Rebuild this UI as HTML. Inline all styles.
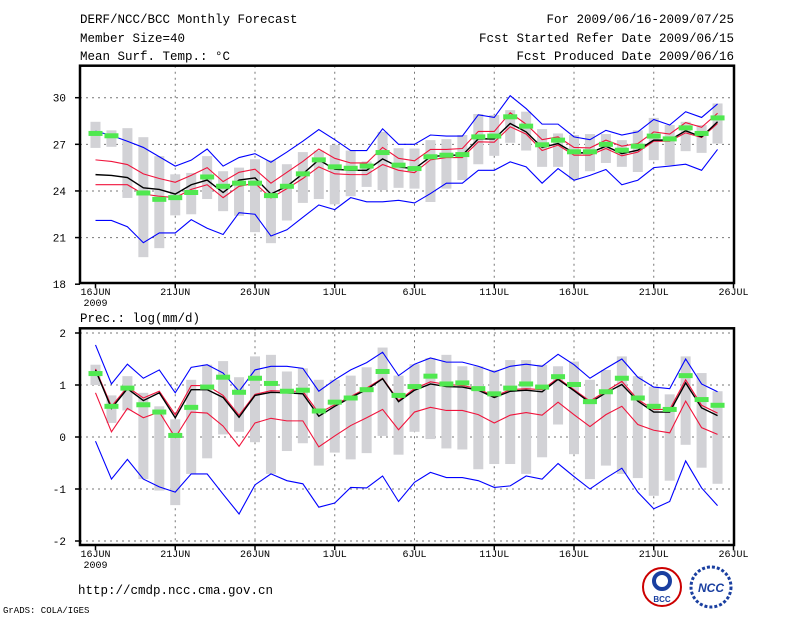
<!DOCTYPE html>
<html><head><meta charset="utf-8"><style>
body{margin:0;background:#fff}
svg{display:block;font-family:"Liberation Sans",sans-serif}
</style></head><body>
<svg id="chart" width="800" height="618" viewBox="0 0 800 618" xmlns="http://www.w3.org/2000/svg">
<g font-size="12.5" fill="#000" font-family="Liberation Mono, monospace">
<text x="80" y="23">DERF/NCC/BCC Monthly Forecast</text>
<text x="80" y="42">Member Size=40</text>
<text x="80" y="60">Mean Surf. Temp.: °C</text>
<text x="734" y="23" text-anchor="end">For 2009/06/16-2009/07/25</text>
<text x="734" y="42" text-anchor="end">Fcst Started Refer Date 2009/06/15</text>
<text x="734" y="60" text-anchor="end">Fcst Produced Date 2009/06/16</text>
<text x="80" y="322">Prec.: log(mm/d)</text>
<text x="78" y="594">http://cmdp.ncc.cma.gov.cn</text>
</g>
<text x="3" y="613" font-size="9" font-family="Liberation Mono, monospace">GrADS: COLA/IGES</text>
<g id="top"></g>
<g id="bot"></g>
<g>
<circle cx="662" cy="587" r="19" fill="#fff" stroke="#c00" stroke-width="2"/>
<circle cx="662" cy="581" r="8" fill="none" stroke="#1a3fa0" stroke-width="4"/>
<text x="662" y="602" font-size="8" text-anchor="middle" fill="#1a3fa0" font-weight="bold">BCC</text>
<circle cx="711" cy="587" r="20" fill="#fff" stroke="#1a3fa0" stroke-width="3" stroke-dasharray="3 2"/>
<text x="711" y="592" font-size="12" text-anchor="middle" fill="#1a3fa0" font-weight="bold" font-style="italic">NCC</text>
</g>
</svg>
<script>
// Temperature panel data (°C), 40 days 16JUN..25JUL
const tBlueHi=[27.85,27.57,27.2,26.8,26.2,25.6,25.98,26.7,25.6,26.15,26.4,25.85,26.5,27.2,27.95,27.3,26.6,26.6,28.0,27.0,27.0,27.6,27.53,27.53,28.9,28.73,30.13,29.3,28.3,28.3,27.48,27.3,27.9,27.6,27.8,28.6,28.24,29.1,28.73,29.6];
const tRedHi=[26.0,25.9,25.7,25.1,24.8,24.56,25.0,25.5,24.6,25.2,25.4,24.5,25.2,25.9,26.7,26.1,25.8,25.8,26.8,26.1,25.94,26.67,26.67,26.73,27.83,27.83,29.03,28.3,27.3,27.48,26.8,26.77,27.27,26.88,27.05,27.8,27.66,28.4,28.1,29.0];
const tMean=[25.05,25.0,24.86,24.2,24.1,23.8,24.4,24.7,23.9,24.7,24.84,23.8,24.3,25.1,26.0,25.4,25.33,25.33,26.06,25.55,25.42,26.2,26.3,26.3,27.35,27.35,28.34,27.8,26.8,27.05,26.45,26.45,26.88,26.4,26.62,27.27,27.27,27.87,27.48,28.45];
const tRedLo=[24.4,24.4,24.4,23.8,23.66,23.57,24.1,24.4,23.57,24.3,24.5,23.55,24.15,24.8,25.55,25.1,25.05,25.05,25.7,25.33,25.18,26.0,26.15,26.15,27.16,27.14,28.13,27.66,26.6,26.95,26.3,26.3,26.73,26.26,26.5,27.2,27.2,27.74,27.44,28.34];
const tBlueLo=[22.1,22.1,21.7,20.67,21.3,21.3,22.15,21.6,21.2,22.6,22.5,21.1,21.5,22.3,23.1,22.8,23.57,23.3,23.3,23.4,23.23,23.83,24.5,24.5,25.33,25.33,25.87,25.55,24.5,25.44,24.69,25.0,25.38,24.4,24.69,25.5,25.6,25.72,25.33,26.67];
const tObs=[27.7,27.55,null,23.87,23.46,23.57,23.9,24.9,24.3,24.5,24.5,23.7,24.3,25.1,26.0,25.55,25.46,25.6,26.47,25.66,25.44,26.2,26.3,26.34,27.48,27.53,28.77,28.17,26.97,27.27,26.52,26.52,27.0,26.62,26.88,27.53,27.35,28.06,27.7,28.7];
const tBarHi=[28.45,27.9,28.04,27.46,26.24,25.07,25.16,26.24,25.27,25.5,26.04,25.98,25.72,26.5,26.6,26.95,26.6,25.9,27.8,26.75,26.73,27.27,27.33,27.6,28.95,28.88,29.2,29.1,27.98,27.7,27.6,27.66,27.66,27.27,27.9,28.7,28.24,28.45,28.24,29.63];
const tBarLo=[26.77,26.84,23.55,19.74,20.32,22.43,22.5,23.48,22.7,22.4,21.35,20.64,22.1,23.23,23.48,23.14,23.66,24.26,24.06,24.2,24.15,23.29,24.15,24.7,25.72,26.26,27.1,26.6,25.55,25.55,24.73,25.27,25.8,25.55,25.22,25.98,25.66,26.56,26.45,27.05];
// Precipitation panel data log(mm/d)
const pBlueHi=[1.77,1.02,1.4,1.13,1.29,0.85,1.34,1.39,1.23,0.88,1.29,1.36,1.36,1.32,0.88,1.1,1.29,1.43,1.63,1.18,1.4,1.52,1.44,1.44,1.36,1.25,1.36,1.4,1.36,1.59,1.39,1.13,1.32,1.5,1.15,0.96,0.93,1.5,1.02,0.87];
const pRedHi=[1.31,0.59,0.96,0.75,0.88,0.43,0.99,0.99,0.8,0.42,0.82,0.89,0.88,0.88,0.46,0.62,0.78,0.94,1.13,0.7,0.93,1.06,1.01,0.99,0.93,0.78,0.91,0.93,0.91,1.13,0.91,0.69,0.88,1.07,0.72,0.53,0.53,1.1,0.61,0.46];
const pMean=[1.29,0.55,0.93,0.7,0.85,0.37,0.91,0.91,0.76,0.38,0.8,0.86,0.85,0.83,0.4,0.59,0.76,0.91,1.12,0.68,0.9,1.02,0.97,0.96,0.9,0.76,0.88,0.9,0.87,1.11,0.89,0.66,0.85,1.01,0.69,0.48,0.48,1.04,0.56,0.41];
const pRedLo=[0.85,0.1,0.55,0.37,0.48,-0.01,0.48,0.46,0.21,-0.18,0.27,0.36,0.31,0.31,-0.19,0.02,0.22,0.37,0.53,0.14,0.48,0.57,0.51,0.51,0.43,0.27,0.42,0.47,0.42,0.67,0.43,0.2,0.43,0.59,0.24,0.13,0.08,0.69,0.18,0.05];
const pBlueLo=[-0.08,-0.81,-0.43,-0.81,-0.96,-1.06,-0.71,-0.71,-1.1,-1.48,-0.92,-0.71,-0.84,-0.9,-1.35,-1.27,-0.97,-0.98,-0.75,-1.24,-0.87,-0.68,-0.78,-0.78,-0.84,-0.97,-0.94,-0.75,-0.81,-0.51,-0.76,-1.0,-0.79,-0.6,-1.06,-1.38,-1.24,-0.46,-0.98,-1.32];
const pObs=[1.22,0.59,0.94,0.62,0.48,0.03,0.57,0.96,1.15,0.86,1.13,1.03,0.88,0.9,0.5,0.67,0.75,0.91,1.26,0.8,0.97,1.17,1.02,1.04,0.93,0.83,0.94,1.02,0.96,1.16,1.01,0.68,0.87,1.13,0.75,0.59,0.53,1.18,0.72,0.61];
const pBarHi=[1.39,0.8,1.17,0.85,0.59,0.34,1.1,1.39,1.46,1.15,1.55,1.58,1.26,1.32,1.1,1.1,1.18,1.34,1.72,1.18,1.4,1.52,1.58,1.36,1.36,1.29,1.48,1.48,1.39,1.36,1.45,1.1,1.29,1.55,1.17,0.97,0.82,1.55,1.23,0.88];
const pBarLo=[1.0,0.27,0.51,-0.81,-1.03,-1.31,-0.71,-0.41,0.05,0.1,-0.1,-0.71,-0.27,-0.12,-0.55,-0.3,-0.43,-0.31,0.02,-0.34,0.1,-0.04,-0.22,-0.24,-0.62,-0.52,-0.52,-0.71,-0.39,0.24,-0.33,-0.81,-0.55,-0.71,-0.79,-1.13,-0.84,-0.15,-0.59,-0.9];
const dateTicks=["16JUN","21JUN","26JUN","1JUL","6JUL","11JUL","16JUL","21JUL","26JUL"];
const tTicks=[18,21,24,27,30];
const pTicks=[-2,-1,0,1,2];

const NS="http://www.w3.org/2000/svg";
function mk(parent,tag,attrs){const e=document.createElementNS(NS,tag);for(const k in attrs)e.setAttribute(k,attrs[k]);parent.appendChild(e);return e;}
const X0=80,X1=734;
function xDay(i){return 95.5+15.95*i;}

function panel(g,cfg){
  const {top,bottom,vmin,vmax,ticks,series,bars,obs,tickFmt}=cfg;
  const y=v=>bottom-(v-vmin)/(vmax-vmin)*(cfg.axisBottom-cfg.axisTop)-(bottom-cfg.axisBottom);
  // grid
  ticks.forEach(t=>{
    const yy=y(t);
    if(yy>top+2&&yy<bottom-2){const l=mk(g,'line',{x1:X0,x2:X1,y1:yy,y2:yy,stroke:'#777','stroke-dasharray':'2 4','stroke-width':1});
    }
    const tk=mk(g,'line',{x1:X0-5,x2:X0,y1:yy,y2:yy,stroke:'#000','stroke-width':1.5});
    
    const tx=mk(g,'text',{x:X0-14,y:yy+4,'font-size':11,'text-anchor':'end','font-family':'Liberation Mono, monospace'});
    tx.textContent=tickFmt(t);
    
  });
  dateTicks.forEach((d,k)=>{
    const xx=xDay(k*5);
    if(k>0&&k<8){const l=mk(g,'line',{x1:xx,x2:xx,y1:top,y2:bottom,stroke:'#777','stroke-dasharray':'2 4','stroke-width':1});
    }
    const tk=mk(g,'line',{x1:xx,x2:xx,y1:bottom,y2:bottom+5,stroke:'#000','stroke-width':1.5});
    
    const tx=mk(g,'text',{x:xx,y:bottom+12,'font-size':10,'text-anchor':'middle','font-family':'Liberation Mono, monospace'});
    tx.textContent=d;
    
  });
  const yr=mk(g,'text',{x:xDay(0),y:bottom+23,'font-size':10,'text-anchor':'middle','font-family':'Liberation Mono, monospace'});
  yr.textContent='2009';
  
  // bars
  bars.hi.forEach((h,i)=>{
    const lo=bars.lo[i];
    const r=mk(g,'rect',{x:xDay(i)-5,y:y(h),width:10,height:Math.max(1,y(lo)-y(h)),fill:'#d2d2d6'});
    
  });
  series.forEach(s=>{
    const p=mk(g,'polyline',{points:s.d.map((v,i)=>xDay(i)+','+y(v)).join(' '),fill:'none',stroke:s.c,'stroke-width':s.w||1.1});
    
  });
  obs.forEach((v,i)=>{
    if(v===null)return;
    const r=mk(g,'rect',{x:xDay(i)-7,y:y(v)-2.5,width:14,height:5,fill:'#50e850'});
    
  });
  const f=mk(g,'rect',{x:X0,y:top,width:X1-X0,height:bottom-top,fill:'none',stroke:'#000','stroke-width':2.5});
  
}
panel(document.getElementById('top'),{top:65.7,bottom:283,axisTop:97.7,axisBottom:284.2,vmin:18,vmax:30,ticks:tTicks,
  tickFmt:t=>String(t),
  bars:{hi:tBarHi,lo:tBarLo},obs:tObs,
  series:[{d:tBlueHi,c:'#0000ff',n:'upper-bound-line'},{d:tBlueLo,c:'#0000ff',n:'lower-bound-line'},
          {d:tRedHi,c:'#f0143c',n:'upper-quartile-line'},{d:tRedLo,c:'#f0143c',n:'lower-quartile-line'},
          {d:tMean,c:'#000',n:'ensemble-mean-line',w:1.4}]});
panel(document.getElementById('bot'),{top:328.3,bottom:545,axisTop:333,axisBottom:541,vmin:-2,vmax:2,ticks:pTicks,
  tickFmt:t=>String(t),
  bars:{hi:pBarHi,lo:pBarLo},obs:pObs,
  series:[{d:pBlueHi,c:'#0000ff',n:'upper-bound-line'},{d:pBlueLo,c:'#0000ff',n:'lower-bound-line'},
          {d:pRedHi,c:'#f0143c',n:'upper-quartile-line'},{d:pRedLo,c:'#f0143c',n:'lower-quartile-line'},
          {d:pMean,c:'#000',n:'ensemble-mean-line',w:1.4}]});
</script>
</body></html>
